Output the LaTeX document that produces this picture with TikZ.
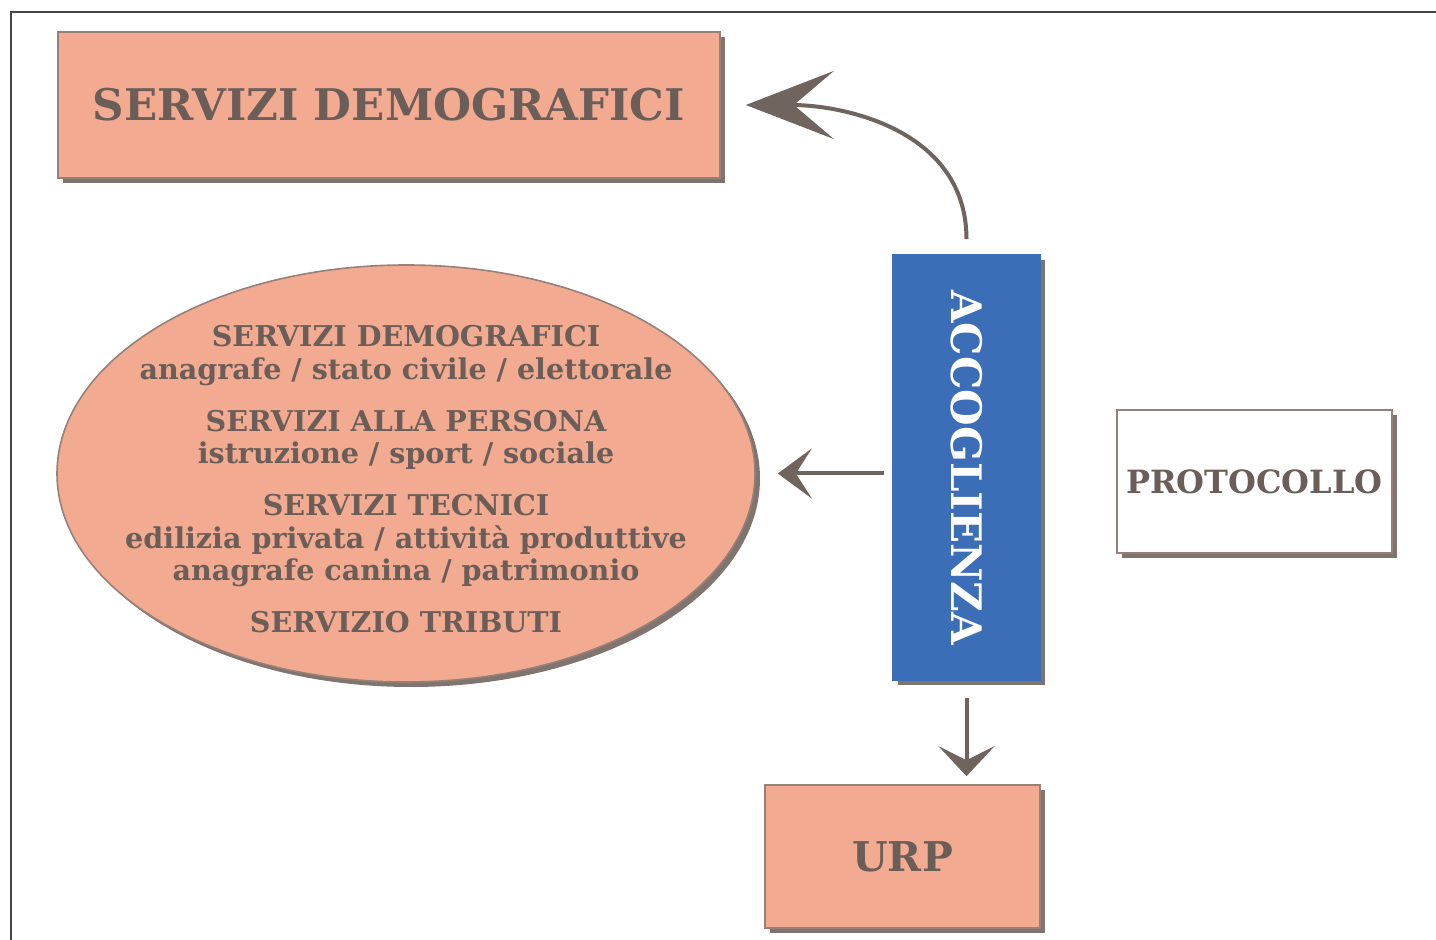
\documentclass[tikz,border=0pt]{standalone}
\usepackage{fontspec}
\setmainfont{DejaVu Serif}
\usepackage{tikz}
\usetikzlibrary{arrows.meta, shadows, shapes.geometric, positioning}
\definecolor{salmon}{RGB}{242,171,145}
\definecolor{textbrown}{RGB}{107,93,88}
\definecolor{officeblue}{RGB}{59,110,183}
\definecolor{shadowgray}{RGB}{128,116,110}
\definecolor{boxborder}{RGB}{150,128,120}
\definecolor{arrowgray}{RGB}{112,100,95}
\definecolor{framegray}{RGB}{70,70,70}
\tikzstyle{office}=[rectangle, draw=boxborder, line width=0.8pt, fill=salmon, text=textbrown, inner sep=0pt,
  drop shadow={shadow xshift=2.5pt, shadow yshift=-2.5pt, fill=shadowgray, opacity=1}]
\tikzstyle{front}=[office, fill=officeblue, draw=officeblue, text=white]
\tikzstyle{blank}=[office, fill=white]
\tikzstyle{services}=[office, ellipse]
\tikzstyle{flow}=[draw=arrowgray, line width=2pt]

\begin{document}
\begin{tikzpicture}[x=0.5pt, y=-0.5pt]
      \useasboundingbox (0,0) rectangle (1436,940);
      \draw[framegray, line width=1pt] (10,12) -- (1436,12) (11,12) -- (11,940);

      \node[office] (demo) at (389,105) [minimum width=331pt, minimum height=73pt,
            font=\bfseries\fontsize{21.8}{26}\selectfont] {SERVIZI DEMOGRAFICI};
      \node[services] (ell) at (406,473.5) [minimum width=349pt, minimum height=208.5pt] {};
      \node[text=textbrown, align=center, font=\bfseries\fontsize{14.3}{16.25}\selectfont] (elltext) at (ell.center) [yshift=-3pt]
            {SERVIZI DEMOGRAFICI\\anagrafe / stato civile / elettorale\\[9.75pt]
             SERVIZI ALLA PERSONA\\istruzione / sport / sociale\\[9.75pt]
             SERVIZI TECNICI\\edilizia privata / attività produttive\\anagrafe canina / patrimonio\\[9.75pt]
             SERVIZIO TRIBUTI};
      \node[blank] (proto) at (1254.5,481.5) [minimum width=137.5pt, minimum height=71.5pt,
            font=\bfseries\fontsize{16}{19}\selectfont] {PROTOCOLLO};
      \node[office] (urp) at (902.5,856.5) [minimum width=137.5pt, minimum height=71.5pt,
            font=\bfseries\fontsize{20.5}{24}\selectfont] {URP};

      \node[front] (acc) at (966.5,467.5) [minimum width=73.5pt, minimum height=212.5pt,
            font=\bfseries\fontsize{21}{25}\selectfont] {\rotatebox{-90}{ACCOGLIENZA}}
            edge [flow, -{Stealth[length=44pt, width=34pt, inset=20pt]}, out=90, in=0, looseness=1.1,
                  shorten <=7.5pt, shorten >=12.5pt] (demo);
      \draw[flow, -{Stealth[length=17pt, width=25pt, inset=8pt]}, shorten <=4pt, shorten >=11pt]
            ([yshift=-3pt]acc.west) -- ([yshift=-3pt]acc.west -| ell.east);
      \draw[flow, -{Stealth[length=15pt, width=28pt, inset=7pt]}, shorten <=8.5pt, shorten >=4pt]
            (acc.south) -- (acc.south |- urp.north);
\end{tikzpicture}
\end{document}
